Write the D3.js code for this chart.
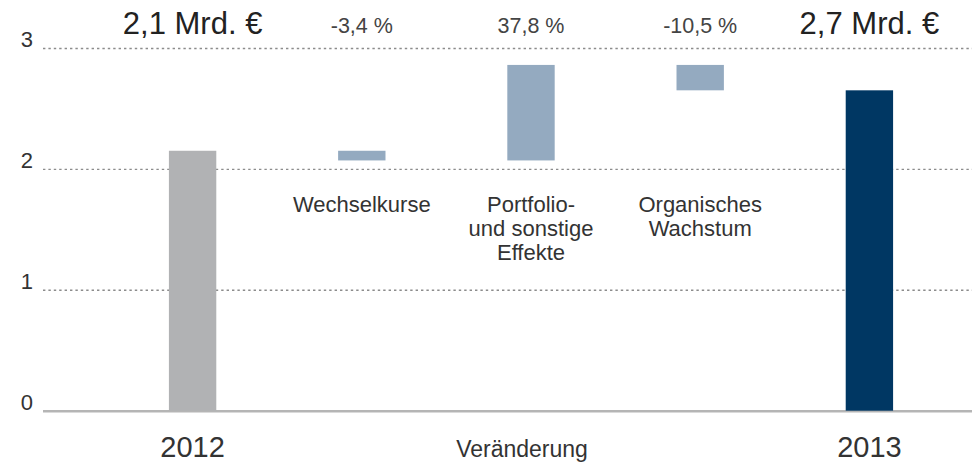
<!DOCTYPE html>
<html>
<head>
<meta charset="utf-8">
<script src="https://cdn.jsdelivr.net/npm/d3@7"></script>
<style>
  body { margin: 0; background: #fff; }
  svg { display: block; font-family: "Liberation Sans", Arial, sans-serif; }
</style>
</head>
<body>
<div id="chart"></div>
<script>
// data
var categories = ["2012", "Wechselkurse", "Portfolio", "Organisches", "2013"];
var values = [2.15, -0.08, 0.79, -0.21, 2.65];
var kinds = ["total", "delta", "delta", "delta", "total"];
var topLabels = ["2,1 Mrd. €", "-3,4 %", "37,8 %", "-10,5 %", "2,7 Mrd. €"];
var catLabels = [[], ["Wechselkurse"], ["Portfolio-", "und sonstige", "Effekte"], ["Organisches", "Wachstum"], []];
var yearLabels = ["2012", "", "", "", "2013"];
var yTicks = [0, 1, 2, 3];

var w = 972, h = 465;
var colors = { first: "#b1b2b4", delta: "#94aac0", last: "#003763" };

var svg = d3.select("#chart").append("svg")
    .attr("width", w)
    .attr("height", h);

var x = d3.scaleBand()
    .domain(categories)
    .range([108, 954])
    .paddingInner(0.72)
    .paddingOuter(0.36);

var y = d3.scaleLinear()
    .domain([0, 3])
    .range([410.7, 48]);

// build waterfall segments
var running = 0;
var bars = categories.map(function(c, i) {
    var b;
    if (kinds[i] == "total") {
        b = { cat: c, y0: 0, y1: values[i] };
        running = values[i];
    } else {
        b = { cat: c, y0: running, y1: running + values[i] };
        running = running + values[i];
    }
    b.color = kinds[i] == "delta" ? colors.delta : (i == 0 ? colors.first : colors.last);
    return b;
});

// grid + y labels
var yAxis = d3.axisLeft(y)
    .tickValues(yTicks)
    .tickSize(-(w - 43))
    .tickPadding(10)
    .tickFormat(d3.format("d"));

var g = svg.append("g")
    .attr("transform", "translate(43,0)")
    .call(yAxis);

g.select(".domain").remove();
g.selectAll(".tick line")
    .attr("stroke", "#8c8c8c")
    .attr("stroke-width", 1.4)
    .attr("stroke-dasharray", "2.4,3")
    .filter(function(d) { return d == 0; })
    .attr("stroke", "#b5b5b5")
    .attr("stroke-width", 2.5)
    .attr("stroke-dasharray", null);
g.selectAll(".tick text")
    .attr("dy", "-0.05em")
    .attr("x", -10)
    .style("font-size", "22px")
    .style("fill", "#333")
    .style("font-family", "Liberation Sans, Arial, sans-serif");

// bars
svg.append("g")
    .selectAll("rect")
    .data(bars)
    .enter().append("rect")
    .attr("x", function(d) { return x(d.cat); })
    .attr("width", x.bandwidth())
    .attr("y", function(d) { return y(Math.max(d.y0, d.y1)); })
    .attr("height", function(d) { return Math.abs(y(d.y0) - y(d.y1)); })
    .style("fill", function(d) { return d.color; });

// top labels
svg.append("g")
    .selectAll("text")
    .data(topLabels)
    .enter().append("text")
    .attr("x", function(d, i) { return x(categories[i]) + x.bandwidth() / 2; })
    .attr("y", function(d, i) { return kinds[i] == "total" ? 34 : 33; })
    .attr("text-anchor", "middle")
    .style("font-size", function(d, i) { return kinds[i] == "total" ? "31px" : "21.5px"; })
    .style("fill", function(d, i) { return kinds[i] == "total" ? "#222" : "#444"; })
    .text(function(d) { return d; });

// category labels under the deltas
catLabels.forEach(function(lines, i) {
    var t = svg.append("text")
        .attr("text-anchor", "middle")
        .style("font-size", "22px")
        .style("fill", "#333");
    lines.forEach(function(l, j) {
        t.append("tspan")
            .attr("x", x(categories[i]) + x.bandwidth() / 2)
            .attr("y", 212 + j * 24)
            .text(l);
    });
});

// year labels
svg.append("g")
    .selectAll("text")
    .data(yearLabels)
    .enter().append("text")
    .attr("x", function(d, i) { return x(categories[i]) + x.bandwidth() / 2; })
    .attr("y", 457)
    .attr("text-anchor", "middle")
    .style("font-size", "29px")
    .style("fill", "#333")
    .text(function(d) { return d; });

svg.append("text")
    .attr("x", 522)
    .attr("y", 457)
    .attr("text-anchor", "middle")
    .style("font-size", "23px")
    .style("fill", "#333")
    .text("Veränderung");
</script>
</body>
</html>
